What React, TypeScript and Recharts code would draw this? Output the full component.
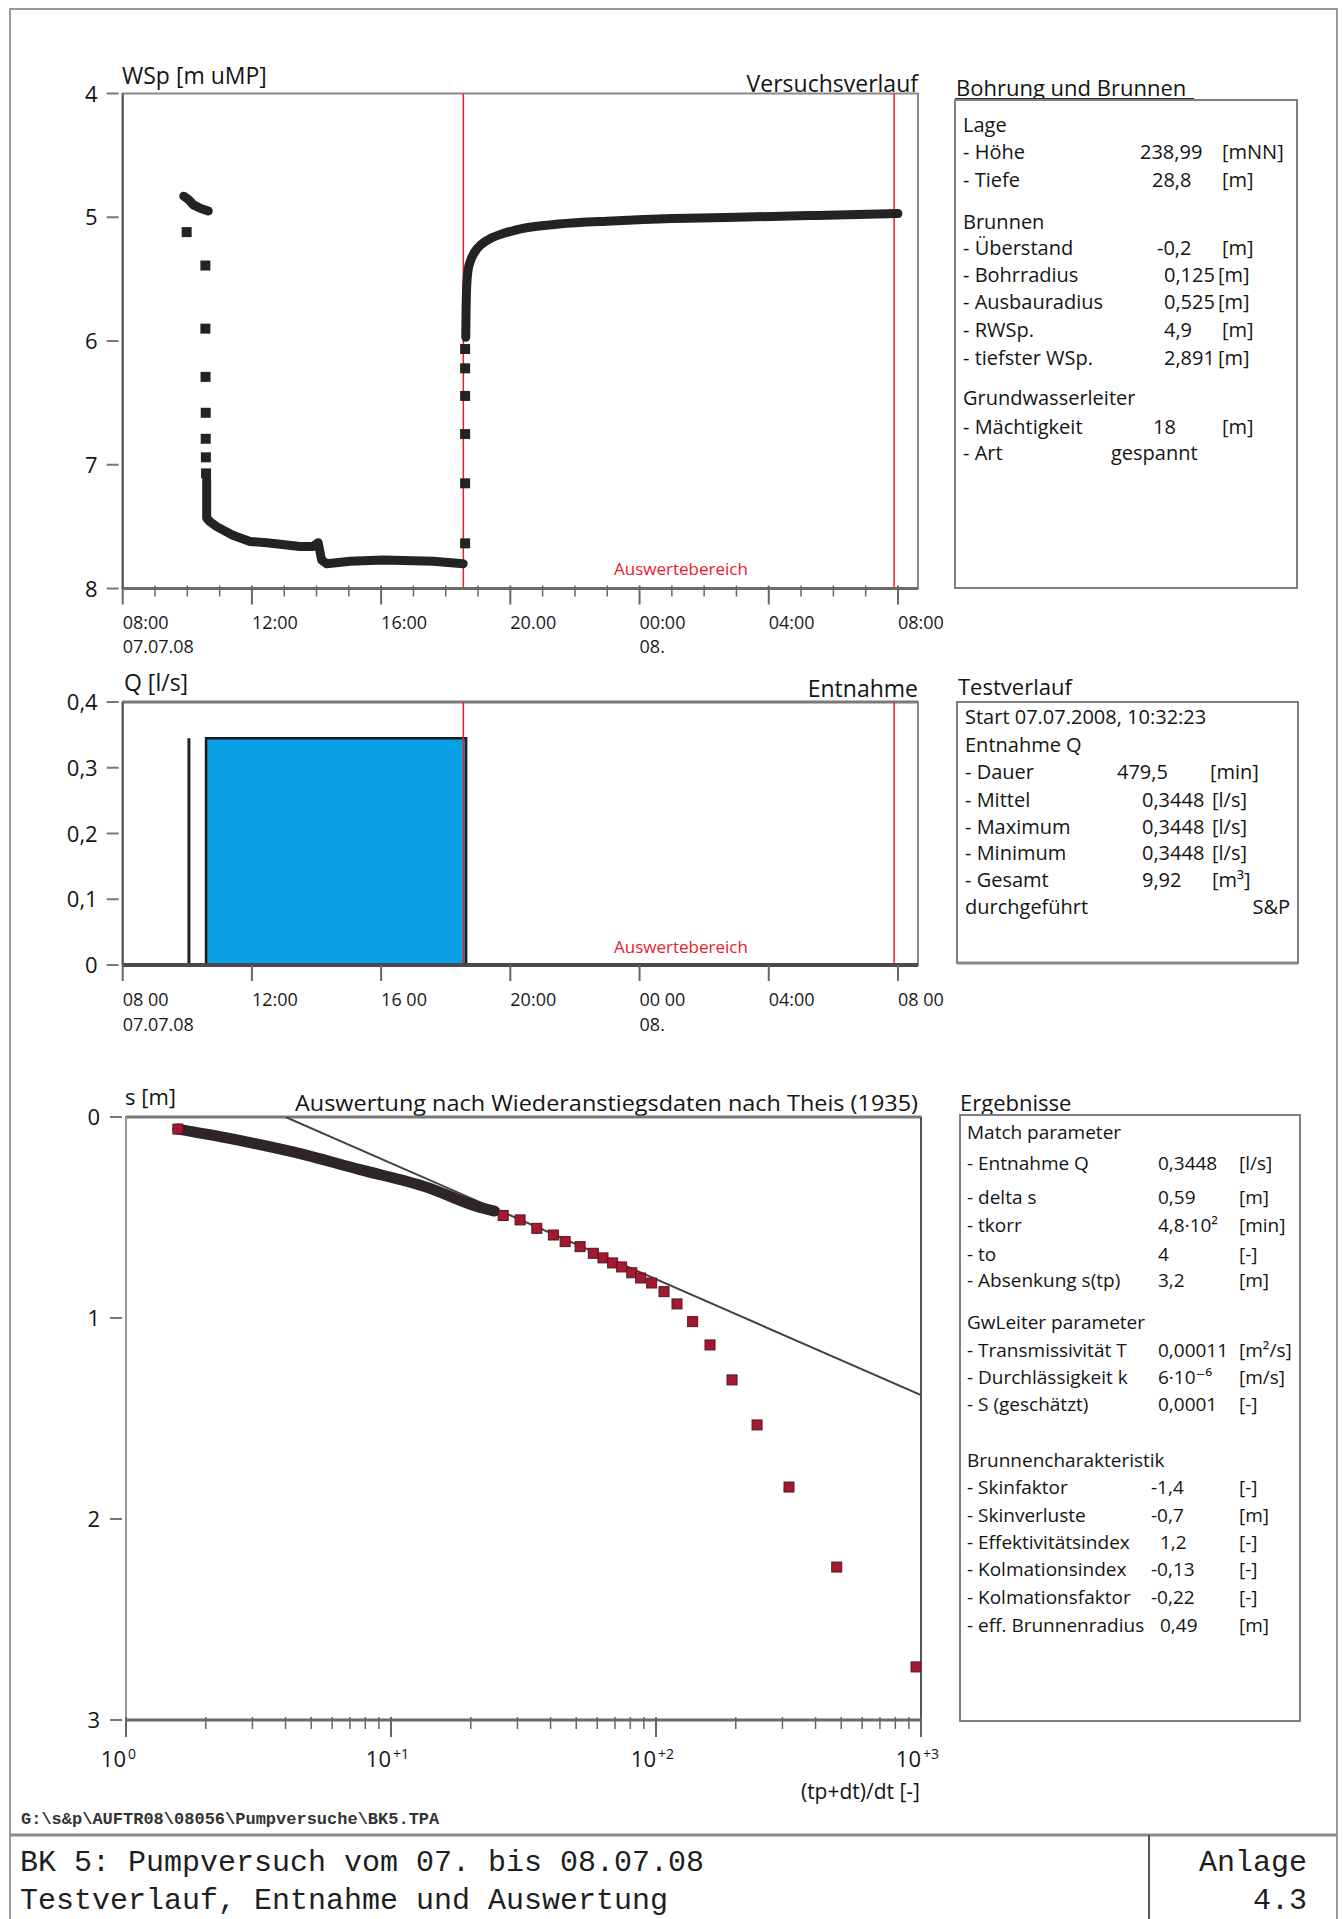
import React from 'react';
import { ComposedChart, XAxis, YAxis, Line, Scatter, Area, ReferenceLine, ReferenceArea } from 'recharts';

const FONT = '"Open Sans", "DejaVu Sans", sans-serif';
const MONO = '"Liberation Mono", "DejaVu Sans Mono", monospace';
const RED = '#e8202a';

// ---------- time axis (hours after 07.07.08 08:00) ----------
const xMaxHours = 24.62;
const hourTicks = Array.from({ length: 25 }, (_, i) => i);
const majorHours = [0, 4, 8, 12, 16, 20, 24];
const topTickLabels = ['08:00', '12:00', '16:00', '20.00', '00:00', '04:00', '08:00'];
const qTickLabels = ['08 00', '12:00', '16 00', '20:00', '00 00', '04:00', '08 00'];
const dateLabels: Record<number, string> = { 0: '07.07.08', 16: '08.' };
const evalTimes = [10.545, 23.88];

// ---------- Versuchsverlauf: water level WSp [m uMP] ----------
const wspTicks = [4, 5, 6, 7, 8];
const prePumpT = [1.89, 2.05, 2.19, 2.42, 2.65];
const prePumpW = [4.83, 4.86, 4.9, 4.93, 4.95];
const drawdownDotsT = [1.98, 2.56, 2.56, 2.565, 2.57, 2.57, 2.575, 2.58];
const drawdownDotsW = [5.12, 5.39, 5.9, 6.29, 6.58, 6.79, 6.94, 7.07];
const drawdownLineT = [2.6, 2.6, 2.7, 2.91, 3.41, 3.94, 4.46, 5.49, 5.89, 6.05, 6.16, 6.32, 7.04, 8.06, 9.61, 10.54];
const drawdownLineW = [7.12, 7.43, 7.46, 7.5, 7.57, 7.62, 7.63, 7.66, 7.66, 7.63, 7.77, 7.8, 7.78, 7.77, 7.78, 7.8];
const recoveryDotsT = [10.6, 10.6, 10.6, 10.6, 10.6, 10.6];
const recoveryDotsW = [7.635, 7.15, 6.752, 6.444, 6.221, 6.065];
const recoveryLineT = [10.62, 10.63, 10.65, 10.69, 10.77, 10.9, 11.1, 11.4, 11.8, 12.5, 13.5, 15.15, 17.0, 19.0, 21.5, 24.0];
const recoveryLineW = [5.97, 5.75, 5.55, 5.43, 5.35, 5.28, 5.22, 5.17, 5.13, 5.085, 5.055, 5.03, 5.01, 5.0, 4.985, 4.97];

// ---------- Entnahme Q [l/s] ----------
const qAxisTicks = [0, 0.1, 0.2, 0.3, 0.4];
const qTimes = [2.58, 2.58, 10.63, 10.63];
const qValues = [0, 0.3448, 0.3448, 0];
const qPreTimes = [2.05, 2.05];
const qPreValues = [0, 0.3448];

// ---------- Theis recovery evaluation ----------
const logTicks: number[] = [];
[1, 10, 100].forEach((d) => { for (let k = 1; k < 10; k++) logTicks.push(d * k); });
logTicks.push(1000);
const decades = [1, 10, 100, 1000];
const decadeSup = ['0', '+1', '+2', '+3'];
const sTicks = [0, 1, 2, 3];
const denseX = [1.57, 2.4, 4.27, 7.64, 13.7, 21.1, 24.6];
const denseS = [0.06, 0.104, 0.174, 0.262, 0.35, 0.445, 0.468];
const redX = [1.57, 26.5, 30.7, 35.5, 41.0, 45.4, 51.7, 58.0, 63.1, 68.6, 74.2, 81.0, 87.5, 96.3, 107.2, 120.0, 137.5, 159.9, 193.6, 240.6, 317.6, 480.8, 957.8];
const redS = [0.06, 0.49, 0.512, 0.554, 0.587, 0.62, 0.645, 0.678, 0.701, 0.726, 0.746, 0.775, 0.801, 0.826, 0.869, 0.93, 1.018, 1.134, 1.308, 1.532, 1.841, 2.239, 2.736];
const fitX = [4, 1000];
const fitS = [0, 1.384];

const pts = (xs: number[], ys: number[]) => xs.map((t, i) => ({ t, v: ys[i] }));

// ---------- info panels ----------
type Row = { y: number; l: string; v?: string; vx?: number; u?: string; ux?: number; end?: boolean };
const panel1: Row[] = [
  { y: 125, l: 'Lage' },
  { y: 152, l: '- Höhe', v: '238,99', vx: 1140, u: '[mNN]', ux: 1222 },
  { y: 180, l: '- Tiefe', v: '28,8', vx: 1152, u: '[m]', ux: 1222 },
  { y: 222, l: 'Brunnen' },
  { y: 248, l: '- Überstand', v: '-0,2', vx: 1157, u: '[m]', ux: 1222 },
  { y: 275, l: '- Bohrradius', v: '0,125', vx: 1164, u: '[m]', ux: 1218 },
  { y: 302, l: '- Ausbauradius', v: '0,525', vx: 1164, u: '[m]', ux: 1218 },
  { y: 330, l: '- RWSp.', v: '4,9', vx: 1164, u: '[m]', ux: 1222 },
  { y: 358, l: '- tiefster WSp.', v: '2,891', vx: 1164, u: '[m]', ux: 1218 },
  { y: 398, l: 'Grundwasserleiter' },
  { y: 427, l: '- Mächtigkeit', v: '18', vx: 1153, u: '[m]', ux: 1222 },
  { y: 453, l: '- Art', v: 'gespannt', vx: 1111 },
];
const panel2: Row[] = [
  { y: 717, l: 'Start 07.07.2008, 10:32:23' },
  { y: 745, l: 'Entnahme Q' },
  { y: 772, l: '- Dauer', v: '479,5', vx: 1117, u: '[min]', ux: 1210 },
  { y: 800, l: '- Mittel', v: '0,3448', vx: 1142, u: '[l/s]', ux: 1212 },
  { y: 827, l: '- Maximum', v: '0,3448', vx: 1142, u: '[l/s]', ux: 1212 },
  { y: 853, l: '- Minimum', v: '0,3448', vx: 1142, u: '[l/s]', ux: 1212 },
  { y: 880, l: '- Gesamt', v: '9,92', vx: 1142, u: '[m³]', ux: 1212 },
  { y: 907, l: 'durchgeführt', v: 'S&P', vx: 1290, end: true },
];
const panel3: Row[] = [
  { y: 1132, l: 'Match parameter' },
  { y: 1163, l: '- Entnahme Q', v: '0,3448', vx: 1158, u: '[l/s]', ux: 1239 },
  { y: 1197, l: '- delta s', v: '0,59', vx: 1158, u: '[m]', ux: 1239 },
  { y: 1225, l: '- tkorr', v: '4,8·10²', vx: 1158, u: '[min]', ux: 1239 },
  { y: 1254, l: '- to', v: '4', vx: 1158, u: '[-]', ux: 1239 },
  { y: 1280, l: '- Absenkung s(tp)', v: '3,2', vx: 1158, u: '[m]', ux: 1239 },
  { y: 1322, l: 'GwLeiter parameter' },
  { y: 1350, l: '- Transmissivität T', v: '0,00011', vx: 1158, u: '[m²/s]', ux: 1239 },
  { y: 1377, l: '- Durchlässigkeit k', v: '6·10⁻⁶', vx: 1158, u: '[m/s]', ux: 1239 },
  { y: 1404, l: '- S (geschätzt)', v: '0,0001', vx: 1158, u: '[-]', ux: 1239 },
  { y: 1460, l: 'Brunnencharakteristik' },
  { y: 1487, l: '- Skinfaktor', v: '-1,4', vx: 1151, u: '[-]', ux: 1239 },
  { y: 1515, l: '- Skinverluste', v: '-0,7', vx: 1151, u: '[m]', ux: 1239 },
  { y: 1542, l: '- Effektivitätsindex', v: '1,2', vx: 1160, u: '[-]', ux: 1239 },
  { y: 1569, l: '- Kolmationsindex', v: '-0,13', vx: 1151, u: '[-]', ux: 1239 },
  { y: 1597, l: '- Kolmationsfaktor', v: '-0,22', vx: 1151, u: '[-]', ux: 1239 },
  { y: 1625, l: '- eff. Brunnenradius', v: '0,49', vx: 1160, u: '[m]', ux: 1239 },
];

const PanelRows = ({ rows, lx, fs }: { rows: Row[]; lx: number; fs: number }) => (
  <g fontFamily={FONT} fontSize={fs} fill="#141414">
    {rows.map((r, i) => (
      <g key={i}>
        <text x={lx} y={r.y + 7}>{r.l}</text>
        {r.v && <text x={r.vx} y={r.y + 7} textAnchor={r.end ? 'end' : 'start'}>{r.v}</text>}
        {r.u && <text x={r.ux} y={r.y + 7}>{r.u}</text>}
      </g>
    ))}
  </g>
);

// ---------- custom ticks ----------
const makeTimeTick = (labels: string[], minor: boolean, dy1: number, dy2: number) => (props: any) => {
  const { x, y, payload } = props;
  const h = payload.value;
  const idx = majorHours.indexOf(h);
  const isMajor = idx >= 0;
  if (!isMajor && !minor) return <g />;
  return (
    <g>
      <line x1={x} x2={x} y1={y - (minor ? 3 : 0)} y2={y + (isMajor ? 16 : 8)} stroke="#666" strokeWidth={isMajor ? 2 : 1.5} />
      {isMajor && (
        <text x={x} y={y + dy1} fontSize={18} fontFamily={FONT} fill="#1a1a1a">{labels[idx]}</text>
      )}
      {isMajor && dateLabels[h] && (
        <text x={x} y={y + dy2} fontSize={18} fontFamily={FONT} fill="#1a1a1a">{dateLabels[h]}</text>
      )}
    </g>
  );
};

const makeYTick = (fmt: (v: number) => string, off: number) => (props: any) => {
  const { x, y, payload } = props;
  return (
    <g>
      <line x1={x - 16} x2={x - 4} y1={y} y2={y} stroke="#777" strokeWidth={2} />
      <text x={x - off} y={y + 8} textAnchor="end" fontSize={22} fontFamily={FONT} fill="#141414">{fmt(payload.value)}</text>
    </g>
  );
};

const LogTick = (props: any) => {
  const { x, y, payload } = props;
  const v = payload.value;
  const di = decades.indexOf(v);
  const isMajor = di >= 0;
  return (
    <g>
      <line x1={x} x2={x} y1={y - 3} y2={y + (isMajor ? 17 : 9)} stroke="#666" strokeWidth={isMajor ? 2 : 1.5} />
      {isMajor && (
        <g fontFamily={FONT} fill="#141414">
          <text x={x} y={y + 47} textAnchor="end" fontSize={22}>10</text>
          <text x={x + 2} y={y + 39} fontSize={14}>{decadeSup[di]}</text>
        </g>
      )}
    </g>
  );
};

const DarkSquare = (p: any) => (
  <rect x={p.cx - 5} y={p.cy - 5} width={10} height={10} fill="#232323" />
);
const RedSquare = (p: any) => (
  <rect x={p.cx - 5} y={p.cy - 5} width={10} height={10} fill="#a3192f" stroke="#5b1420" strokeWidth={1} />
);

// ---------- charts ----------
const TopChart = () => (
  <ComposedChart width={960} height={680} margin={{ top: 93.5, right: 42, bottom: 21.5, left: 62.7 }}>
    <ReferenceArea x1={0} x2={xMaxHours} y1={4} y2={8} fill="none" stroke="#8a8a8a" strokeWidth={2} ifOverflow="visible" />
    <XAxis dataKey="t" type="number" domain={[0, xMaxHours]} ticks={hourTicks} interval={0} allowDataOverflow
      tick={makeTimeTick(topTickLabels, true, 40.5, 64.5)} tickLine={false} tickSize={0} tickMargin={0} height={70}
      axisLine={{ stroke: '#6b6b6b', strokeWidth: 3 }} />
    <YAxis type="number" domain={[4, 8]} reversed ticks={wspTicks} interval={0} allowDataOverflow
      tick={makeYTick((v) => String(v), 25)} tickLine={false} tickSize={0} tickMargin={0} width={60}
      axisLine={{ stroke: '#555', strokeWidth: 2 }} />
    {evalTimes.map((t) => (
      <ReferenceLine key={t} x={t} stroke={RED} strokeWidth={1.5} />
    ))}
    <Line data={pts(prePumpT, prePumpW)} dataKey="v" type="linear" stroke="#232323" strokeWidth={9} strokeLinecap="round" strokeLinejoin="round" dot={false} isAnimationActive={false} />
    <Line data={pts(drawdownLineT, drawdownLineW)} dataKey="v" type="linear" stroke="#232323" strokeWidth={9} strokeLinecap="round" strokeLinejoin="round" dot={false} isAnimationActive={false} />
    <Line data={pts(recoveryLineT, recoveryLineW)} dataKey="v" type="monotone" stroke="#232323" strokeWidth={9} strokeLinecap="round" strokeLinejoin="round" dot={false} isAnimationActive={false} />
    <Scatter data={pts(drawdownDotsT, drawdownDotsW)} dataKey="v" shape={DarkSquare} isAnimationActive={false} />
    <Scatter data={pts(recoveryDotsT, recoveryDotsW)} dataKey="v" shape={DarkSquare} isAnimationActive={false} />
  </ComposedChart>
);

const QChart = () => (
  <ComposedChart width={960} height={400} margin={{ top: 42, right: 42, bottom: 25, left: 62.7 }}>
    <ReferenceArea x1={0} x2={xMaxHours} y1={0} y2={0.4} fill="none" stroke="#8a8a8a" strokeWidth={2} ifOverflow="visible" />
    <ReferenceLine y={0.4} stroke="#7a7a7a" strokeWidth={3} />
    <XAxis dataKey="t" type="number" domain={[0, xMaxHours]} ticks={hourTicks} interval={0} allowDataOverflow
      tick={makeTimeTick(qTickLabels, false, 41, 66)} tickLine={false} tickSize={0} tickMargin={0} height={70}
      axisLine={{ stroke: '#4a4a4a', strokeWidth: 4 }} />
    <YAxis type="number" domain={[0, 0.4]} ticks={qAxisTicks} interval={0} allowDataOverflow
      tick={makeYTick((v) => (v === 0 ? '0' : v.toFixed(1).replace('.', ',')), 25)} tickLine={false} tickSize={0} tickMargin={0} width={60}
      axisLine={{ stroke: '#555', strokeWidth: 2 }} />
    {evalTimes.map((t) => (
      <ReferenceLine key={t} x={t} stroke={RED} strokeWidth={1.5} />
    ))}
    <Area data={pts(qTimes, qValues)} dataKey="v" type="linear" baseValue={0} fill="#0aa0e6" fillOpacity={1} stroke="#1a1a1a" strokeWidth={2.5} dot={false} isAnimationActive={false} />
    <Line data={pts(qPreTimes, qPreValues)} dataKey="v" type="linear" stroke="#222" strokeWidth={3} dot={false} isAnimationActive={false} />
  </ComposedChart>
);

const TheisChart = () => (
  <ComposedChart width={960} height={720} margin={{ top: 37, right: 39, bottom: 20, left: 66 }}>
    <ReferenceArea x1={1} x2={1000} y1={0} y2={3} fill="none" stroke="#8a8a8a" strokeWidth={2} ifOverflow="visible" />
    <ReferenceLine y={0} stroke="#7a7a7a" strokeWidth={3} />
    <ReferenceLine x={1000} stroke="#555" strokeWidth={2} />
    <XAxis dataKey="t" type="number" scale="log" domain={[1, 1000]} ticks={logTicks} interval={0} allowDataOverflow
      tick={LogTick} tickLine={false} tickSize={0} tickMargin={0} height={60}
      axisLine={{ stroke: '#6b6b6b', strokeWidth: 3 }} />
    <YAxis type="number" domain={[0, 3]} reversed ticks={sTicks} interval={0} allowDataOverflow
      tick={makeYTick((v) => String(v), 26)} tickLine={false} tickSize={0} tickMargin={0} width={60}
      axisLine={{ stroke: '#9a9a9a', strokeWidth: 1.5 }} />
    <Line data={pts(fitX, fitS)} dataKey="v" type="linear" stroke="#444" strokeWidth={2} dot={false} isAnimationActive={false} />
    <Line data={pts(denseX, denseS)} dataKey="v" type="monotone" stroke="#2d2527" strokeWidth={11} strokeLinecap="round" dot={false} isAnimationActive={false} />
    <Scatter data={pts(redX, redS)} dataKey="v" shape={RedSquare} isAnimationActive={false} />
  </ComposedChart>
);

const Decor = () => (
  <svg width={1343} height={1919} style={{ position: 'absolute', left: 0, top: 0 }}>
    {/* page frame */}
    <rect x={10} y={9} width={1327} height={1915} fill="none" stroke="#9a9a9a" strokeWidth={2} />
    <line x1={10} x2={1337} y1={1835} y2={1835} stroke="#8a8a8a" strokeWidth={3} />
    <line x1={1149} x2={1149} y1={1835} y2={1919} stroke="#555" strokeWidth={2} />

    {/* chart titles */}
    <g fontFamily={FONT} fill="#141414">
      <text x={122} y={84} fontSize={23}>WSp [m uMP]</text>
      <text x={918} y={92} fontSize={23} textAnchor="end">Versuchsverlauf</text>
      <text x={681} y={575} fontSize={17} textAnchor="middle" fill={RED}>Auswertebereich</text>
      <text x={124} y={691} fontSize={23}>Q [l/s]</text>
      <text x={918} y={697} fontSize={23} textAnchor="end">Entnahme</text>
      <text x={681} y={953} fontSize={17} textAnchor="middle" fill={RED}>Auswertebereich</text>
      <text x={125} y={1105} fontSize={22}>s [m]</text>
      <text x={295} y={1111} fontSize={22} textLength={623} lengthAdjust="spacingAndGlyphs">Auswertung nach Wiederanstiegsdaten nach Theis (1935)</text>
      <text x={920} y={1799} fontSize={21} textAnchor="end">(tp+dt)/dt [-]</text>
    </g>

    {/* panel 1 */}
    <text x={956} y={96} fontFamily={FONT} fontSize={22} fill="#141414">Bohrung und Brunnen</text>
    <line x1={955} x2={1194} y1={99} y2={99} stroke="#333" strokeWidth={2} />
    <rect x={955} y={100} width={342} height={488} fill="none" stroke="#808080" strokeWidth={2} />
    <PanelRows rows={panel1} lx={963} fs={20} />

    {/* panel 2 */}
    <text x={958} y={695} fontFamily={FONT} fontSize={22} fill="#141414">Testverlauf</text>
    <rect x={957} y={702} width={341} height={261} fill="none" stroke="#808080" strokeWidth={2} />
    <line x1={957} x2={1298} y1={963} y2={963} stroke="#888" strokeWidth={3} />
    <PanelRows rows={panel2} lx={965} fs={20} />

    {/* panel 3 */}
    <text x={960} y={1111} fontFamily={FONT} fontSize={22} fill="#141414">Ergebnisse</text>
    <rect x={960} y={1115} width={340} height={606} fill="none" stroke="#808080" strokeWidth={2} />
    <PanelRows rows={panel3} lx={967} fs={19} />

    {/* footer */}
    <text x={21} y={1824} fontFamily={MONO} fontSize={17} fontWeight={700} fill="#333">G:\s&amp;p\AUFTR08\08056\Pumpversuche\BK5.TPA</text>
    <g fontFamily={MONO} fontSize={30} fill="#1e1e1e">
      <text x={20} y={1871}>BK 5: Pumpversuch vom 07. bis 08.07.08</text>
      <text x={20} y={1909}>Testverlauf, Entnahme und Auswertung</text>
      <text x={1199} y={1871}>Anlage</text>
      <text x={1307} y={1909} textAnchor="end">4.3</text>
    </g>
  </svg>
);

export default function App() {
  return (
    <div style={{ position: 'absolute', left: 0, top: 0, width: 1343, height: 1919, background: '#fff', overflow: 'hidden' }}>
      <Decor />
      <div style={{ position: 'absolute', left: 0, top: 0 }}><TopChart /></div>
      <div style={{ position: 'absolute', left: 0, top: 660 }}><QChart /></div>
      <div style={{ position: 'absolute', left: 0, top: 1080 }}><TheisChart /></div>
    </div>
  );
}
